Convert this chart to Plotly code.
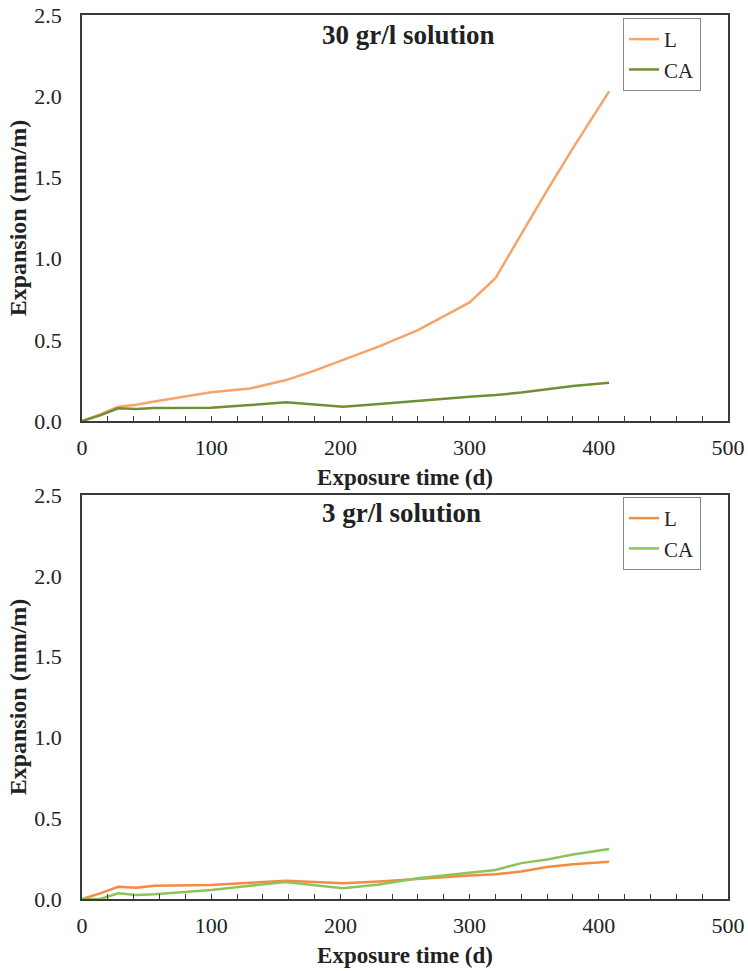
import plotly.graph_objects as go
from plotly.subplots import make_subplots

days = [0, 14, 28, 42, 56, 80, 100, 130, 158, 180, 202, 230, 260, 285, 300, 320, 340, 360, 380, 408]

top_L = [0, 0.04, 0.088, 0.10, 0.12, 0.15, 0.177, 0.20, 0.252, 0.31, 0.375, 0.46, 0.56, 0.665, 0.73, 0.88, 1.15, 1.42, 1.68, 2.03]
top_CA = [0, 0.035, 0.078, 0.074, 0.08, 0.082, 0.082, 0.098, 0.115, 0.102, 0.088, 0.105, 0.125, 0.14, 0.15, 0.16, 0.175, 0.195, 0.215, 0.236]

bot_L = [0, 0.035, 0.076, 0.07, 0.082, 0.084, 0.087, 0.10, 0.113, 0.105, 0.097, 0.108, 0.125, 0.14, 0.146, 0.153, 0.17, 0.198, 0.215, 0.231]
bot_CA = [0, 0.0, 0.035, 0.025, 0.03, 0.042, 0.056, 0.082, 0.105, 0.085, 0.066, 0.09, 0.128, 0.15, 0.162, 0.18, 0.222, 0.245, 0.275, 0.309]

titles = ["30 gr/l solution", "3 gr/l solution"]
x_ticks = [0, 100, 200, 300, 400, 500]
y_ticks = [0.0, 0.5, 1.0, 1.5, 2.0, 2.5]

SERIF = "Liberation Serif, Times New Roman, serif"
AX = "#3a3a3a"
TXT = "#222"

fig = make_subplots(rows=2, cols=1)

fig.add_trace(go.Scatter(x=days, y=top_L, mode="lines", name="L",
                         line=dict(color="#F7A46A", width=2.5), legend="legend"), row=1, col=1)
fig.add_trace(go.Scatter(x=days, y=top_CA, mode="lines", name="CA",
                         line=dict(color="#6F8F36", width=2.5), legend="legend"), row=1, col=1)
fig.add_trace(go.Scatter(x=days, y=bot_L, mode="lines", name="L",
                         line=dict(color="#F58B42", width=2.5), legend="legend2"), row=2, col=1)
fig.add_trace(go.Scatter(x=days, y=bot_CA, mode="lines", name="CA",
                         line=dict(color="#8CC45A", width=2.5), legend="legend2"), row=2, col=1)

xaxis_common = dict(range=[0, 500], tickvals=x_ticks, ticks="inside", ticklen=5, tickwidth=1.2,
                    tickcolor=AX, minor=dict(dtick=20, ticks="inside", ticklen=5, tickcolor=AX, tickwidth=1.2),
                    showline=True, linecolor=AX, linewidth=1.8, mirror=True, showgrid=False, zeroline=False,
                    automargin=False, ticklabelstandoff=6, ticklabeloverflow="allow",
                    tickfont=dict(family=SERIF, size=22, color=TXT),
                    title=dict(text="<b>Exposure time (d)</b>", font=dict(family=SERIF, size=23, color=TXT),
                               standoff=10))
yaxis_common = dict(range=[0, 2.5], tickvals=y_ticks, tickformat=".1f", ticks="",
                    showline=True, linecolor=AX, linewidth=1.8, mirror=True, showgrid=False, zeroline=False,
                    automargin=False, ticklabeloverflow="allow",
                    tickfont=dict(family=SERIF, size=22, color=TXT), ticklabelstandoff=14,
                    title=dict(text="<b>Expansion (mm/m)</b>", font=dict(family=SERIF, size=24, color=TXT),
                               standoff=1))

legend_common = dict(xanchor="left", yanchor="top", bordercolor="#888", borderwidth=1,
                     font=dict(family=SERIF, size=21, color=TXT), bgcolor="white", tracegroupgap=0,
                     itemwidth=30)

fig.update_layout(
    width=748, height=971,
    margin=dict(l=82, r=20, t=15, b=72, autoexpand=False),
    paper_bgcolor="white", plot_bgcolor="white",
    xaxis=dict(domain=[0, 1], anchor="y", **xaxis_common),
    yaxis=dict(domain=[0.5407, 1.0], anchor="x", **yaxis_common),
    xaxis2=dict(domain=[0, 1], anchor="y2", **xaxis_common),
    yaxis2=dict(domain=[0.0, 0.457], anchor="x2", **yaxis_common),
    legend=dict(x=0.8375, y=0.9966, **legend_common),
    legend2=dict(x=0.8375, y=0.4548, **legend_common),
    showlegend=True,
)

fig.add_annotation(text="<b>" + titles[0] + "</b>", x=0.506, y=0.977, xref="paper", yref="paper",
                   showarrow=False, font=dict(family=SERIF, size=27, color=TXT), xanchor="center", yanchor="middle")
fig.add_annotation(text="<b>" + titles[1] + "</b>", x=0.495, y=0.4367, xref="paper", yref="paper",
                   showarrow=False, font=dict(family=SERIF, size=27, color=TXT), xanchor="center", yanchor="middle")

# Remove the browser's default 8px body margin so the figure fills the window exactly.
fig.write_html("out.html", config={"displayModeBar": False},
               post_script="document.body.style.margin='0';document.body.style.overflow='hidden';")
